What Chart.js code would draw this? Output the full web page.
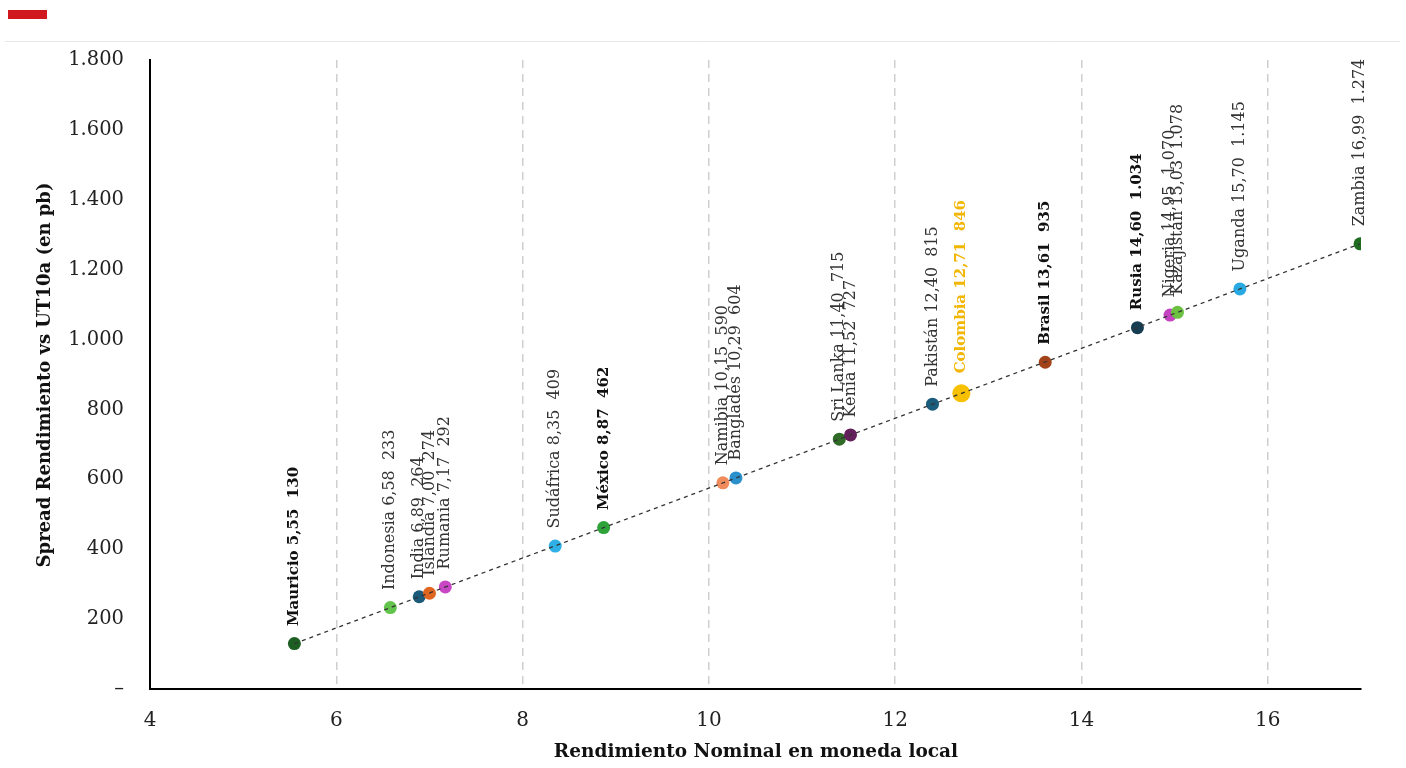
<!DOCTYPE html>
<html>
<head>
<meta charset="utf-8">
<script src="https://cdn.jsdelivr.net/npm/chart.js@4/dist/chart.umd.min.js"></script>
<style>
  html, body { margin: 0; padding: 0; background: #fff; }
  #wrap { width: 1406px; height: 768px; }
</style>
</head>
<body>
<div id="wrap"><canvas id="grafik"></canvas></div>
<script>
// datos
var paises = ["Mauricio","Indonesia","India","Islandia","Rumania","Sudáfrica","México","Namibia","Bangladés","Sri Lanka","Kenia","Pakistán","Colombia","Brasil","Rusia","Nigeria","Kazajistán","Uganda","Zambia"]
var rendimiento = [5.55,6.58,6.89,7.00,7.17,8.35,8.87,10.15,10.29,11.40,11.52,12.40,12.71,13.61,14.60,14.95,15.03,15.70,16.99]
var spread = [130,233,264,274,292,409,462,590,604,715,727,815,846,935,1034,1070,1078,1145,1274]
var colores = ["#1d5e22","#62c44c","#1b5a78","#e0651e","#c847c4","#2fb0e6","#2ea33a","#f08c5c","#2a90cc","#2f6b27","#64205a","#195c7c","#f7c000","#a3431a","#163d52","#c443c0","#6cc142","#29a9e2","#1f6b20"]
var negrita = ["Mauricio","México","Colombia","Brasil","Rusia"]
var xTicks = [4,6,8,10,12,14,16]

function miles(v) {
  if (v === 0) return '–'
  return String(v).replace(/\B(?=(\d{3})+(?!\d))/g, '.')
}
function coma(v) { return v.toFixed(2).replace('.', ',') }

// tendencia lineal (minimos cuadrados)
var n = rendimiento.length, sx = 0, sy = 0, sxx = 0, sxy = 0
for (var i = 0; i < n; i++) {
  sx += rendimiento[i]; sy += spread[i]
  sxx += rendimiento[i]*rendimiento[i]; sxy += rendimiento[i]*spread[i]
}
var pend = (n*sxy - sx*sy) / (n*sxx - sx*sx)
var orig = (sy - pend*sx) / n
var xMin = Math.min.apply(null, rendimiento), xMax = Math.max.apply(null, rendimiento)
var tendencia = [{x: xMin, y: orig + pend*xMin}, {x: xMax, y: orig + pend*xMax}]

var puntos = rendimiento.map(function(x, i) { return {x: x, y: spread[i]} })
var radios = paises.map(function(p) { return p === 'Colombia' ? 9 : 6.5 })

var etiquetas = {
  id: 'etiquetas',
  afterDatasetsDraw: function(chart) {
    var ctx = chart.ctx
    var meta = chart.getDatasetMeta(1)
    ctx.save()
    meta.data.forEach(function(el, i) {
      var p = paises[i]
      var bold = negrita.indexOf(p) >= 0
      ctx.save()
      ctx.translate(el.x, el.y - radios[i] - 11)
      ctx.rotate(-Math.PI/2)
      ctx.font = bold ? 'bold 15px "DejaVu Serif"' : '16px "DejaVu Serif"'
      ctx.fillStyle = p === 'Colombia' ? '#f2b705' : (bold ? '#111' : '#333')
      ctx.textAlign = 'left'
      ctx.textBaseline = 'middle'
      ctx.fillText(p + ' ' + coma(rendimiento[i]) + '  ' + miles(spread[i]), 0, 0)
      ctx.restore()
    })
    ctx.restore()
  },
  afterDraw: function(chart) {
    var ctx = chart.ctx
    ctx.save()
    ctx.fillStyle = '#d0191f'
    ctx.fillRect(8, 10, 39, 9)
    ctx.strokeStyle = '#e8e8e8'
    ctx.lineWidth = 1
    ctx.beginPath(); ctx.moveTo(5, 41.5); ctx.lineTo(1400, 41.5); ctx.stroke()
    ctx.fillStyle = '#111'
    ctx.font = 'bold 18.5px "DejaVu Serif"'
    ctx.textAlign = 'center'
    ctx.textBaseline = 'middle'
    ctx.fillText('Rendimiento Nominal en moneda local', 756, 752)
    ctx.font = 'bold 18px "DejaVu Serif"'
    ctx.translate(45, 375)
    ctx.rotate(-Math.PI/2)
    ctx.fillText('Spread Rendimiento vs UT10a (en pb)', 0, 0)
    ctx.restore()
  }
}

new Chart(document.getElementById('grafik'), {
  type: 'scatter',
  data: {
    datasets: [{
      type: 'line',
      data: tendencia,
      borderColor: '#333',
      borderWidth: 1.3,
      borderDash: [4, 4],
      pointRadius: 0,
      fill: false,
      order: 0
    }, {
      data: puntos,
      backgroundColor: colores,
      borderColor: colores,
      borderWidth: 0,
      pointRadius: radios,
      pointHoverRadius: radios,
      order: 1
    }]
  },
  options: {
    responsive: true,
    maintainAspectRatio: false,
    animation: false,
    layout: { padding: { left: 0, right: 45, top: 60, bottom: 0 } },
    plugins: { legend: { display: false }, tooltip: { enabled: false } },
    scales: {
      x: {
        type: 'linear',
        min: 4, max: 17,
        afterBuildTicks: function(s) { s.ticks = xTicks.map(function(v) { return {value: v} }) },
        afterFit: function(s) { s.height = 79 },
        ticks: { font: { family: 'DejaVu Serif', size: 20 }, color: '#222', padding: 20 },
        grid: {
          drawTicks: false,
          color: function(c) { return c.tick && c.tick.value === 4 ? 'rgba(0,0,0,0)' : '#cfcfcf' },
          lineWidth: 1.5,
          tickLength: 0
        },
        border: { display: true, color: '#000', width: 2, dash: [8, 6] }
      },
      y: {
        min: 0, max: 1800,
        ticks: { stepSize: 200, callback: function(v) { return miles(v) }, font: { family: 'DejaVu Serif', size: 19.5 }, color: '#222', padding: 26 },
        afterFit: function(s) { s.width = 150 },
        grid: { display: false, drawTicks: false },
        border: { display: true, color: '#000', width: 2 }
      }
    }
  },
  plugins: [etiquetas]
})
</script>
</body>
</html>
